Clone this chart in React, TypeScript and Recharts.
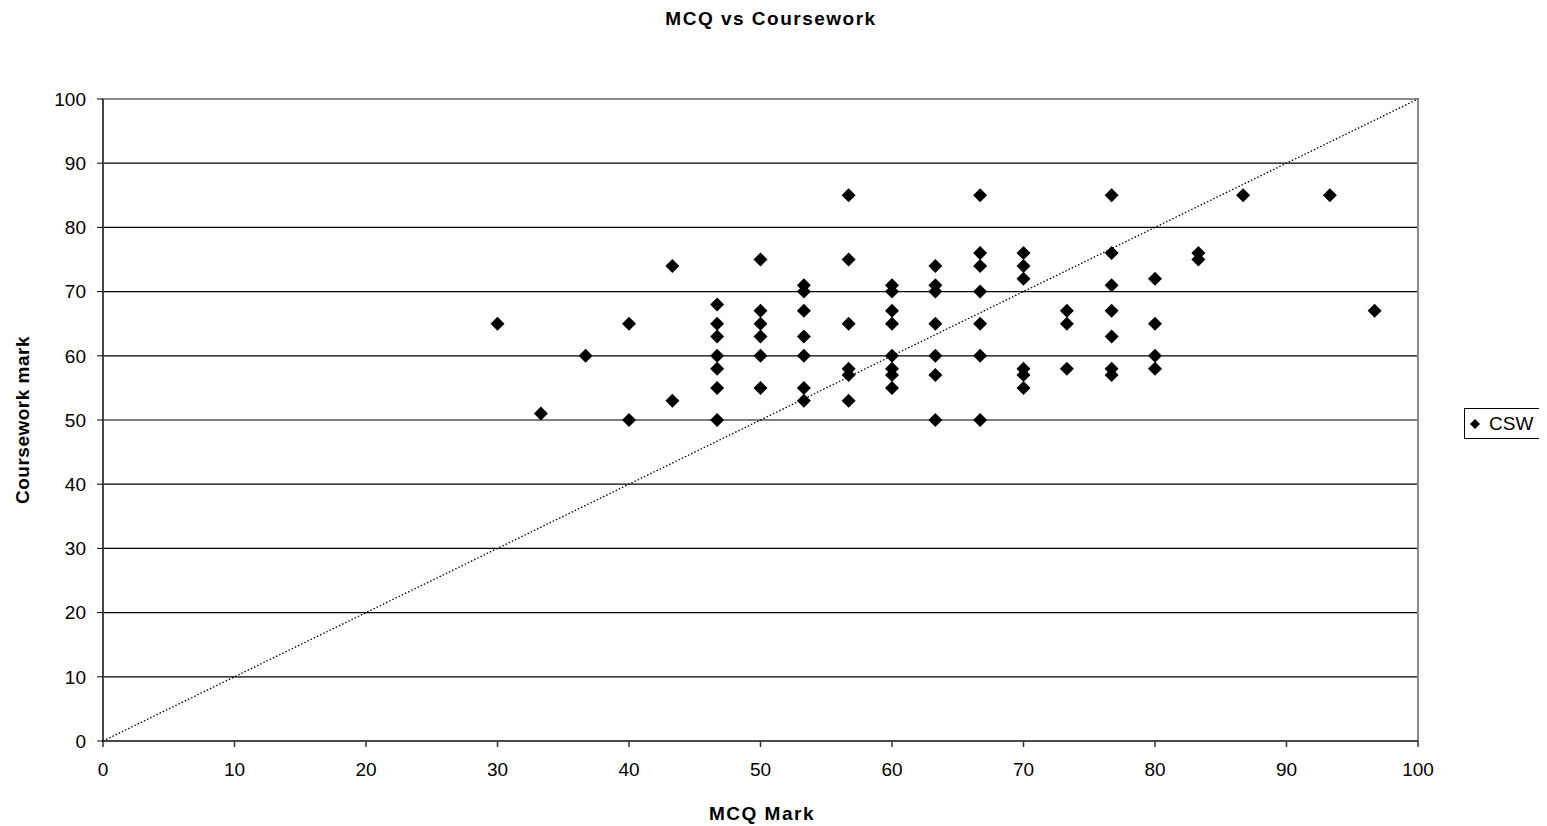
import {
  CartesianGrid,
  ReferenceArea,
  ReferenceLine,
  Scatter,
  ScatterChart,
  XAxis,
  YAxis,
} from 'recharts'

// MCQ mark (x) and coursework mark (y), one entry per student
const mcqMark = [
  30, 33.3, 36.7, 40, 40, 43.3, 43.3,
  46.7, 46.7, 46.7, 46.7, 46.7, 46.7, 46.7,
  50, 50, 50, 50, 50, 50,
  53.3, 53.3, 53.3, 53.3, 53.3, 53.3, 53.3,
  56.7, 56.7, 56.7, 56.7, 56.7, 56.7,
  60, 60, 60, 60, 60, 60, 60, 60,
  63.3, 63.3, 63.3, 63.3, 63.3, 63.3, 63.3,
  66.7, 66.7, 66.7, 66.7, 66.7, 66.7, 66.7,
  70, 70, 70, 70, 70, 70,
  73.3, 73.3, 73.3,
  76.7, 76.7, 76.7, 76.7, 76.7, 76.7, 76.7,
  80, 80, 80, 80,
  83.3, 83.3, 86.7, 93.3, 96.7,
]
const courseworkMark = [
  65, 51, 60, 65, 50, 74, 53,
  68, 65, 63, 60, 58, 55, 50,
  75, 67, 65, 63, 60, 55,
  71, 70, 67, 63, 60, 55, 53,
  85, 75, 65, 58, 57, 53,
  71, 70, 67, 65, 60, 58, 57, 55,
  74, 71, 70, 65, 60, 57, 50,
  85, 76, 74, 70, 65, 60, 50,
  76, 74, 72, 58, 57, 55,
  67, 65, 58,
  85, 76, 71, 67, 63, 58, 57,
  72, 65, 60, 58,
  76, 75, 85, 85, 67,
]
const axisTicks = [0, 10, 20, 30, 40, 50, 60, 70, 80, 90, 100]
const seriesName = 'CSW'

const FONT = '"Liberation Sans", Arial, sans-serif'

const data = mcqMark.map((x, i) => ({ x, y: courseworkMark[i] }))

function Diamond(props: any) {
  const { cx, cy } = props
  const r = 7
  return (
    <polygon
      points={`${cx},${cy - r} ${cx + r},${cy} ${cx},${cy + r} ${cx - r},${cy}`}
      fill="#000"
    />
  )
}

export default function App() {
  return (
    <div style={{ position: 'relative', width: 1531, height: 818, fontFamily: FONT }}>
      <div
        style={{
          position: 'absolute',
          left: 563,
          width: 400,
          top: 0,
          textAlign: 'center',
          fontWeight: 'bold',
          fontSize: 19,
          letterSpacing: 1.5,
          lineHeight: '22px',
        }}
      >
        MCQ vs Coursework
      </div>
      <div
        style={{
          position: 'absolute',
          left: 15 - 150,
          top: 412 - 11,
          width: 300,
          textAlign: 'center',
          fontWeight: 'bold',
          fontSize: 19,
          letterSpacing: 0.5,
          lineHeight: '22px',
          transform: 'rotate(-90deg)',
        }}
      >
        Coursework mark
      </div>
      <div
        style={{
          position: 'absolute',
          left: 554,
          width: 400,
          top: 795,
          textAlign: 'center',
          fontWeight: 'bold',
          fontSize: 19,
          letterSpacing: 1.5,
          lineHeight: '22px',
        }}
      >
        MCQ Mark
      </div>
      <div
        style={{
          position: 'absolute',
          left: 1456,
          top: 400,
          border: '1px solid #000',
          background: '#fff',
          width: 79,
          height: 29,
          display: 'flex',
          alignItems: 'center',
          fontSize: 19,
        }}
      >
        <svg width={10} height={10} style={{ marginLeft: 5, marginRight: 9 }}>
          <polygon points="5,0 10,5 5,10 0,5" fill="#000" />
        </svg>
        <span>{seriesName}</span>
      </div>
      <ScatterChart
        width={1531}
        height={818}
        margin={{ top: 91, right: 121, bottom: 45, left: 15 }}
      >
        <CartesianGrid vertical={false} stroke="#000" strokeWidth={1.2} />
        <ReferenceArea
          x1={0}
          x2={100}
          y1={0}
          y2={100}
          fill="none"
          stroke="#8c8c8c"
          strokeWidth={2}
          strokeOpacity={1}
        />
        <XAxis
          type="number"
          dataKey="x"
          domain={[0, 100]}
          ticks={axisTicks}
          height={40}
          tickSize={6}
          tickMargin={16}
          stroke="#333"
          strokeWidth={1.5}
          tick={{ fill: '#000', fontSize: 19, fontFamily: FONT }}
          allowDataOverflow
        />
        <YAxis
          type="number"
          dataKey="y"
          domain={[0, 100]}
          ticks={axisTicks}
          width={80}
          tickSize={6}
          tickMargin={11}
          stroke="#000"
          tick={{ fill: '#000', fontSize: 19, fontFamily: FONT }}
          allowDataOverflow
        />
        <ReferenceLine
          segment={[
            { x: 0, y: 0 },
            { x: 100, y: 100 },
          ]}
          stroke="#000"
          strokeWidth={1.3}
          strokeDasharray="1.5 2"
        />
        <Scatter
          name={seriesName}
          data={data}
          fill="#000"
          shape={<Diamond />}
          isAnimationActive={false}
        />
      </ScatterChart>
    </div>
  )
}
